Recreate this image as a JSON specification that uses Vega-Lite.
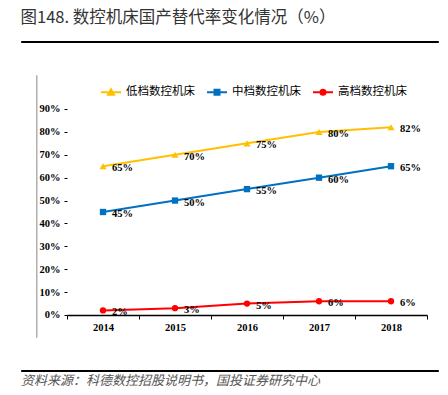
{
  "$schema": "https://vega.github.io/schema/vega-lite/v6.json",
  "background": "white",
  "padding": {"left": 20, "top": 10, "right": 10, "bottom": 5},
  "title": {"text": "图148. 数控机床国产替代率变化情况（%）", "anchor": "start", "font": "Noto Sans CJK SC", "fontSize": 16.5, "fontWeight": "normal", "color": "#333333", "offset": 14},
  "config": {"view": {"stroke": null}},
  "spacing": 31,
  "resolve": {"legend": {"fill": "independent", "stroke": "independent", "shape": "independent"}},
  "vconcat": [
    {"width": 417, "height": 1, "data": {"values": []}, "mark": "point", "view": {"stroke": "black", "strokeWidth": 1, "fill": "black"}},
    {
      "spacing": 2,
      "resolve": {"legend": {"fill": "independent", "stroke": "independent", "shape": "independent"}},
      "hconcat": [
        {"width": 11, "height": 262, "data": {"values": []}, "mark": "point", "view": {"stroke": "white", "strokeWidth": 0.5}},
        {"width": 0.5, "height": 262, "data": {"values": []}, "mark": "point", "view": {"stroke": "#b0b0b0", "strokeWidth": 1, "fill": "#b0b0b0"}},
        {
          "width": 360,
          "height": 262,
          "data": {"values": [
            {"year": "2014", "series": "低档数控机床", "value": 0.65},
            {"year": "2015", "series": "低档数控机床", "value": 0.70},
            {"year": "2016", "series": "低档数控机床", "value": 0.75},
            {"year": "2017", "series": "低档数控机床", "value": 0.80},
            {"year": "2018", "series": "低档数控机床", "value": 0.82},
            {"year": "2014", "series": "中档数控机床", "value": 0.45},
            {"year": "2015", "series": "中档数控机床", "value": 0.50},
            {"year": "2016", "series": "中档数控机床", "value": 0.55},
            {"year": "2017", "series": "中档数控机床", "value": 0.60},
            {"year": "2018", "series": "中档数控机床", "value": 0.65},
            {"year": "2014", "series": "高档数控机床", "value": 0.02},
            {"year": "2015", "series": "高档数控机床", "value": 0.03},
            {"year": "2016", "series": "高档数控机床", "value": 0.05},
            {"year": "2017", "series": "高档数控机床", "value": 0.06},
            {"year": "2018", "series": "高档数控机床", "value": 0.06}
          ]},
          "encoding": {
            "x": {"field": "year", "type": "ordinal", "scale": {"type": "band", "paddingInner": 0, "paddingOuter": 0},
              "axis": {"title": null, "labelAngle": 0, "offset": -22, "tickBand": "extent", "tickSize": 4, "tickColor": "black", "domainColor": "black", "domainWidth": 1.5, "labelFont": "Liberation Serif", "labelFontWeight": "bold", "labelFontSize": 10.5, "labelColor": "black", "labelPadding": 3}},
            "y": {"field": "value", "type": "quantitative", "scale": {"domain": [-0.09612, 1.04854], "nice": false, "zero": false},
              "axis": {"title": null, "domain": false, "values": [0, 0.1, 0.2, 0.3, 0.4, 0.5, 0.6, 0.7, 0.8, 0.9], "format": ".0%", "grid": false, "tickSize": 3, "tickColor": "black", "labelFont": "Liberation Serif", "labelFontWeight": "bold", "labelFontSize": 10.5, "labelColor": "black", "labelPadding": 4}}
          },
          "layer": [
            {"data": {"values": [{"year": "2014"}]},
             "mark": {"type": "rule", "color": "black", "strokeWidth": 1.5},
             "encoding": {"x": {"field": "year", "type": "ordinal", "bandPosition": 0}, "y": {"datum": 0, "type": "quantitative"}, "y2": {"datum": 0.9}}},
            {"mark": {"type": "point", "size": 0, "opacity": 1, "filled": false, "strokeWidth": 0},
             "encoding": {
               "fill": {"field": "series", "type": "nominal", "scale": {"domain": ["低档数控机床", "中档数控机床", "高档数控机床"], "range": ["#FFC000", "#0070C0", "#FF0000"]}, "legend": {"orient": "none", "legendX": 27, "legendY": 0, "direction": "horizontal", "padding": 6, "title": null, "symbolSize": 400, "symbolStrokeWidth": 2, "symbolOpacity": 1, "labelFont": "Noto Sans CJK SC", "labelFontSize": 11.5, "labelColor": "black", "labelOffset": 4, "columnPadding": 8}},
               "stroke": {"field": "series", "type": "nominal", "scale": {"domain": ["低档数控机床", "中档数控机床", "高档数控机床"], "range": ["#FFC000", "#0070C0", "#FF0000"]}, "legend": {"orient": "none", "legendX": 27, "legendY": 0, "direction": "horizontal", "padding": 6, "title": null, "symbolSize": 400, "symbolStrokeWidth": 2, "symbolOpacity": 1, "labelFont": "Noto Sans CJK SC", "labelFontSize": 11.5, "labelColor": "black", "labelOffset": 4, "columnPadding": 8}},
               "shape": {"field": "series", "type": "nominal", "scale": {"domain": ["低档数控机床", "中档数控机床", "高档数控机床"], "range": ["M-1,0H1M-0.3,0.25L0,-0.3L0.3,0.25Z", "M-1,0H1M-0.25,-0.25H0.25V0.25H-0.25Z", "M-1,0H1M-0.25,0A0.25,0.25,0,1,1,0.25,0A0.25,0.25,0,1,1,-0.25,0Z"]}, "legend": {"orient": "none", "legendX": 27, "legendY": 0, "direction": "horizontal", "padding": 6, "title": null, "symbolSize": 400, "symbolStrokeWidth": 2, "symbolOpacity": 1, "labelFont": "Noto Sans CJK SC", "labelFontSize": 11.5, "labelColor": "black", "labelOffset": 4, "columnPadding": 8}}
             }},
            {"mark": {"type": "line", "strokeWidth": 2},
             "encoding": {"color": {"field": "series", "type": "nominal", "scale": {"domain": ["低档数控机床", "中档数控机床", "高档数控机床"], "range": ["#FFC000", "#0070C0", "#FF0000"]}, "legend": null}}},
            {"transform": [{"filter": "datum.series === '低档数控机床'"}],
             "mark": {"type": "point", "shape": "triangle-up", "filled": true, "opacity": 1, "size": 50, "color": "#FFC000"}},
            {"transform": [{"filter": "datum.series === '中档数控机床'"}],
             "mark": {"type": "point", "shape": "square", "filled": true, "opacity": 1, "size": 40, "color": "#0070C0"}},
            {"transform": [{"filter": "datum.series === '高档数控机床'"}],
             "mark": {"type": "point", "shape": "circle", "filled": true, "opacity": 1, "size": 40, "color": "#FF0000"}},
            {"mark": {"type": "text", "align": "left", "baseline": "middle", "dx": 9, "dy": 2, "font": "Liberation Serif", "fontWeight": "bold", "fontSize": 10.5, "color": "black"},
             "encoding": {"text": {"field": "value", "type": "quantitative", "format": ".0%"}}}
          ]
        }
      ]
    },
    {"width": 417, "height": 1, "data": {"values": []}, "mark": "point", "view": {"stroke": "black", "strokeWidth": 1, "fill": "black"},
     "title": {"text": "资料来源：科德数控招股说明书，国投证券研究中心", "orient": "bottom", "anchor": "start", "baseline": "top", "font": "Noto Sans CJK SC", "fontSize": 13, "fontStyle": "italic", "fontWeight": "normal", "color": "#555555", "offset": 4}}
  ]
}
